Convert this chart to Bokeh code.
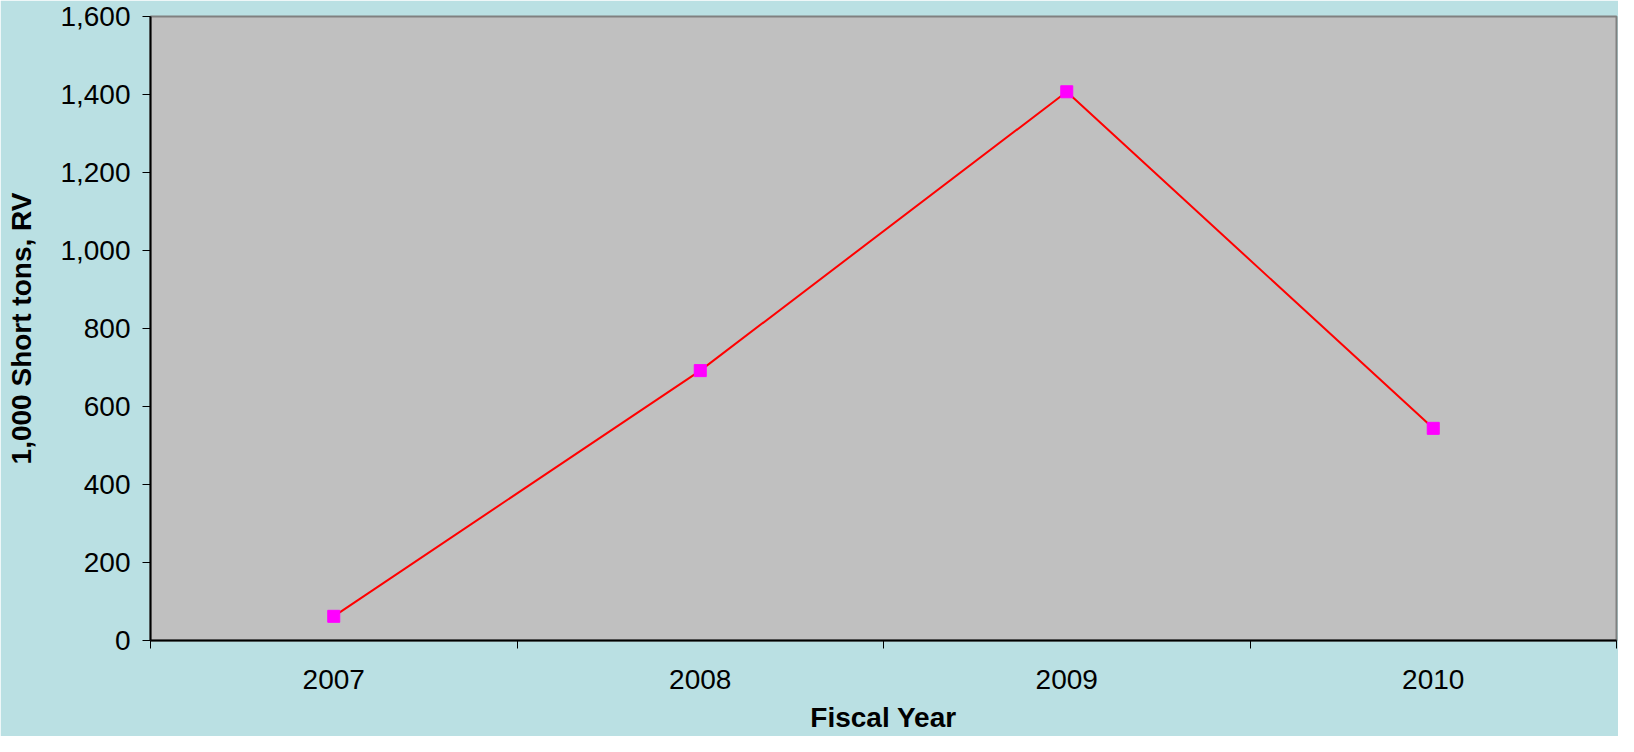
from bokeh.plotting import figure
from bokeh.models import FixedTicker, NumeralTickFormatter, Range1d
from bokeh.embed import file_html
from bokeh.resources import INLINE

years = [2007, 2008, 2009, 2010]
values = [62, 692, 1407, 544]
y_ticks = [0, 200, 400, 600, 800, 1000, 1200, 1400, 1600]
x_labels = {2007: "2007", 2008: "2008", 2009: "2009", 2010: "2010"}

FONT = "Liberation Sans"
BG = "#BAE0E3"

p = figure(width=1618, height=736, output_backend="svg", toolbar_location=None,
           x_range=Range1d(2006.5, 2010.5), y_range=Range1d(0, 1600),
           min_border_left=150, min_border_right=2, min_border_top=16, min_border_bottom=96)

p.background_fill_color = "#C0C0C0"
p.border_fill_color = BG
p.outline_line_color = "#808080"
p.outline_line_width = 2
p.xgrid.visible = False
p.ygrid.visible = False

p.line(years, values, line_color="#FF0000", line_width=2)
p.scatter(years, values, marker="square", size=12, fill_color="#FF00FF", line_color="#FF00FF")

xa = p.xaxis[0]
xa.ticker = FixedTicker(ticks=years, minor_ticks=[2006.5, 2007.5, 2008.5, 2009.5, 2010.5])
xa.major_label_overrides = x_labels
xa.major_tick_out = 0
xa.major_tick_in = 0
xa.minor_tick_out = 8
xa.minor_tick_in = 0
xa.minor_tick_line_color = "#000000"
xa.axis_line_color = "#000000"
xa.axis_line_width = 2
xa.major_label_standoff = 21
xa.major_label_text_font = FONT
xa.major_label_text_font_size = "28px"
xa.major_label_text_color = "#000000"
xa.axis_label = "Fiscal Year"
xa.axis_label_text_font = FONT
xa.axis_label_text_font_style = "bold"
xa.axis_label_text_font_size = "28px"
xa.axis_label_text_color = "#000000"
xa.axis_label_standoff = 10

ya = p.yaxis[0]
ya.ticker = FixedTicker(ticks=y_ticks, minor_ticks=[])
ya.formatter = NumeralTickFormatter(format="0,0")
ya.major_tick_out = 8
ya.major_tick_in = 0
ya.major_tick_line_color = "#000000"
ya.axis_line_color = "#000000"
ya.axis_line_width = 2
ya.major_label_standoff = 12
ya.major_label_text_font = FONT
ya.major_label_text_font_size = "28px"
ya.major_label_text_color = "#000000"
ya.axis_label = "1,000 Short tons, RV"
ya.axis_label_text_font = FONT
ya.axis_label_text_font_style = "bold"
ya.axis_label_text_font_size = "28px"
ya.axis_label_text_color = "#000000"
ya.axis_label_standoff = 20

open("out.html", "w").write(file_html(p, INLINE))
